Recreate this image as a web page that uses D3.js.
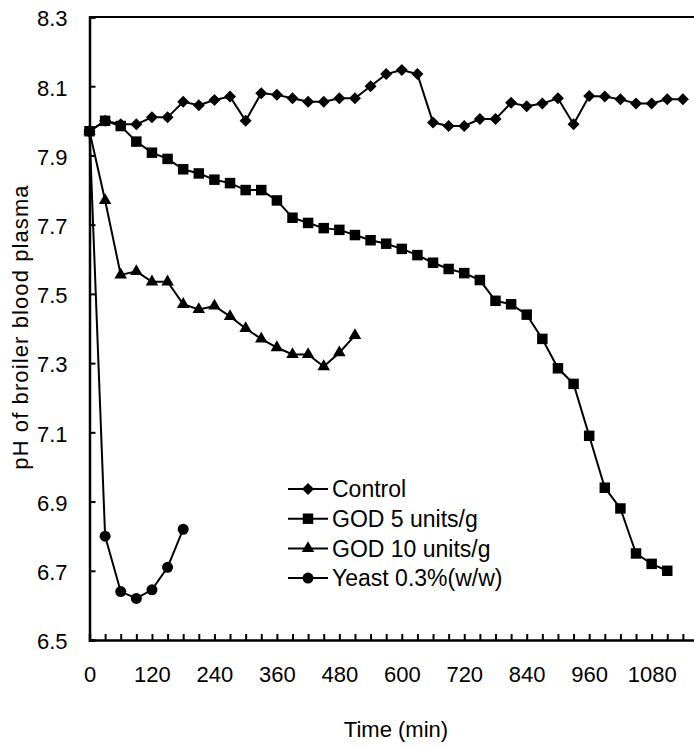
<!DOCTYPE html>
<html>
<head>
<meta charset="utf-8">
<script src="https://cdn.jsdelivr.net/npm/d3@7"></script>
<style>
  body { margin: 0; background: #fff; }
  svg { display: block; font-family: "Liberation Sans", Arial, sans-serif; }
</style>
</head>
<body>
<div id="chart"></div>
<script>
const width = 694;
const height = 748;

// sampling times (min), one every 30 min
const timeMin = [0, 30, 60, 90, 120, 150, 180, 210, 240, 270, 300, 330, 360, 390, 420, 450, 480, 510, 540, 570,
  600, 630, 660, 690, 720, 750, 780, 810, 840, 870, 900, 930, 960, 990, 1020, 1050, 1080, 1110, 1140];

const controlPH = [7.97, 8.00, 7.99, 7.99, 8.01, 8.01, 8.055, 8.045, 8.06, 8.07, 8.00, 8.08, 8.075, 8.065, 8.055,
  8.055, 8.065, 8.065, 8.10, 8.135, 8.147, 8.135, 7.995, 7.985, 7.985, 8.005, 8.005, 8.052, 8.042, 8.05,
  8.065, 7.99, 8.072, 8.07, 8.062, 8.05, 8.05, 8.062, 8.062];
const god5PH = [7.97, 8.00, 7.985, 7.94, 7.908, 7.89, 7.86, 7.848, 7.83, 7.82, 7.80, 7.80, 7.77, 7.72, 7.705,
  7.69, 7.685, 7.67, 7.655, 7.645, 7.63, 7.612, 7.59, 7.572, 7.56, 7.54, 7.48, 7.47, 7.44, 7.37,
  7.285, 7.24, 7.09, 6.94, 6.88, 6.75, 6.72, 6.70];
const god10PH = [7.97, 7.77, 7.555, 7.565, 7.535, 7.535, 7.47, 7.455, 7.465, 7.435, 7.40, 7.37, 7.345, 7.325,
  7.325, 7.29, 7.33, 7.38];
const yeastPH = [7.97, 6.80, 6.64, 6.62, 6.645, 6.71, 6.82];

const seriesNames = ["Control", "GOD 5 units/g", "GOD 10 units/g", "Yeast 0.3%(w/w)"];
const yTicks = [6.5, 6.7, 6.9, 7.1, 7.3, 7.5, 7.7, 7.9, 8.1, 8.3];
const xLabels = [0, 120, 240, 360, 480, 600, 720, 840, 960, 1080];

const series = [
  { name: seriesNames[0], values: controlPH, type: "diamond" },
  { name: seriesNames[1], values: god5PH, type: "square" },
  { name: seriesNames[2], values: god10PH, type: "triangle" },
  { name: seriesNames[3], values: yeastPH, type: "circle" }
];

// scales (the right end of the original plot is cut off by the frame)
const x = d3.scaleLinear().domain([0, 1200]).range([89.5, 89.5 + 1200 * 0.5205]);
const y = d3.scaleLinear().domain([6.5, 8.3]).range([640, 17]);

const symbolFor = {
  diamond: d3.symbol().type(d3.symbolSquare).size(72),
  square: d3.symbol().type(d3.symbolSquare).size(110),
  triangle: d3.symbol().type(d3.symbolTriangle).size(68),
  circle: d3.symbol().type(d3.symbolCircle).size(95)
};
const rotFor = { diamond: 45, square: 0, triangle: 0, circle: 0 };

const svg = d3.select("#chart")
  .append("svg")
  .attr("width", width)
  .attr("height", height);

// top frame line
svg.append("line")
  .attr("x1", x(0)).attr("x2", width)
  .attr("y1", y(8.3)).attr("y2", y(8.3))
  .attr("stroke", "#000").attr("stroke-width", 2);

// y axis
const yAxis = svg.append("g")
  .attr("transform", `translate(${x(0)},0)`)
  .call(d3.axisLeft(y).tickValues(yTicks).tickSize(-6).tickPadding(22).tickFormat(d3.format(".1f")));
yAxis.select(".domain").attr("stroke-width", 2.5);
yAxis.selectAll(".tick line").attr("stroke-width", 2);
yAxis.selectAll(".tick text")
  .attr("font-size", 22).attr("fill", "#000").attr("dy", "0.4em");

// x axis: small ticks every 30 min
const xTickAxis = svg.append("g")
  .attr("transform", `translate(0,${y(6.5)})`)
  .call(d3.axisBottom(x).tickValues(d3.range(0, 1200, 30)).tickSize(-6).tickFormat(""));
xTickAxis.select(".domain").attr("stroke-width", 2.5);
xTickAxis.selectAll(".tick line").attr("stroke-width", 2);

// x labels
const xLabelAxis = svg.append("g")
  .attr("transform", `translate(0,${y(6.5)})`)
  .call(d3.axisBottom(x).tickValues(xLabels).tickSize(0).tickPadding(26).tickFormat(d3.format("d")));
xLabelAxis.select(".domain").remove();
xLabelAxis.selectAll(".tick text").attr("font-size", 22).attr("fill", "#000");

// axis titles
svg.append("text")
  .attr("x", 396).attr("y", 737)
  .attr("text-anchor", "middle")
  .attr("font-size", 22)
  .text("Time (min)");

svg.append("text")
  .attr("transform", "translate(28,327) rotate(-90)")
  .attr("text-anchor", "middle")
  .attr("font-size", 22)
  .attr("letter-spacing", 1.1)
  .text("pH of broiler blood plasma");

// lines + markers
const line = d3.line()
  .x((d, i) => x(timeMin[i]))
  .y(d => y(d));

series.forEach(s => {
  svg.append("path")
    .datum(s.values)
    .attr("d", line)
    .attr("fill", "none")
    .attr("stroke", "#000")
    .attr("stroke-width", 2);

  svg.selectAll(null)
    .data(s.values)
    .enter()
    .append("path")
    .attr("d", symbolFor[s.type])
    .attr("transform", (d, i) => `translate(${x(timeMin[i])},${y(d)}) rotate(${rotFor[s.type]})`)
    .attr("fill", "#000");
});

// legend
const legend = svg.append("g").attr("transform", "translate(288,489)");
series.forEach((s, i) => {
  const row = legend.append("g").attr("transform", `translate(0,${i * 29.7})`);
  row.append("line")
    .attr("x1", 0).attr("x2", 40)
    .attr("stroke", "#000").attr("stroke-width", 2);
  row.append("path")
    .attr("d", symbolFor[s.type])
    .attr("transform", `translate(20,0) rotate(${rotFor[s.type]})`)
    .attr("fill", "#000");
  row.append("text")
    .attr("x", 44).attr("dy", "0.36em")
    .attr("font-size", 23)
    .text(s.name);
});
</script>
</body>
</html>
